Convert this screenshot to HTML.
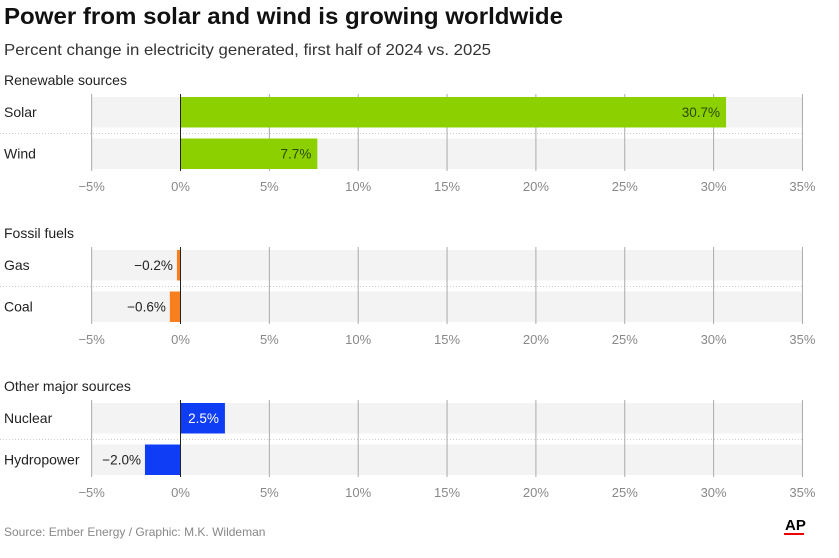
<!DOCTYPE html>
<html><head><meta charset="utf-8"><style>
body{margin:0;background:#fff;width:839px;height:553px;overflow:hidden;font-family:"Liberation Sans",sans-serif}
</style></head><body>
<svg id="c" width="839" height="553" xmlns="http://www.w3.org/2000/svg" font-family="Liberation Sans, sans-serif">
<text x="4" y="24" font-size="23.5" font-weight="bold" fill="#111" textLength="559" lengthAdjust="spacingAndGlyphs">Power from solar and wind is growing worldwide</text>
<text x="4" y="55" font-size="16" fill="#333" textLength="487" lengthAdjust="spacingAndGlyphs">Percent change in electricity generated, first half of 2024 vs. 2025</text>
<g id="panels"></g>
<text x="4" y="536" font-size="12" fill="#888">Source: Ember Energy / Graphic: M.K. Wildeman</text>
<text x="785" y="530" font-size="15" font-weight="bold" fill="#000">AP</text>
<rect x="784" y="533" width="20" height="2" fill="#e00"/>
</svg>
<script>
const groups = ["Renewable sources","Fossil fuels","Other major sources"];
const categories = [["Solar","Wind"],["Gas","Coal"],["Nuclear","Hydropower"]];
const values = [[30.7,7.7],[-0.2,-0.6],[2.5,-2.0]];
const colors = ["#8cd000","#f77f1e","#0f3cf5"];
const ticks = [-5,0,5,10,15,20,25,30,35];
const NS="http://www.w3.org/2000/svg";
const x = v => 180.5 + (v)*17.77;
const g = document.getElementById('panels');
function mk(t,a,txt){const e=document.createElementNS(NS,t);for(const k in a)e.setAttribute(k,a[k]);if(txt!=null)e.textContent=txt;g.appendChild(e);return e;}
groups.forEach((gn,gi)=>{
  const oy = gi*153;
  const t=mk('text',{x:4,y:85+oy,'font-size':14,fill:'#222'},gn);
  
  
  categories[gi].forEach((c,ri)=>{
    const top=97+oy+ri*41.5;
    const bg=mk('rect',{x:x(-5),y:top,width:x(35)-x(-5),height:30.5,fill:'#f3f3f3'});
    
    
  });
  const sep=mk('line',{x1:0,x2:802,y1:133.5+oy,y2:133.5+oy,stroke:'#ccc','stroke-dasharray':'1,2'});
  
  
  ticks.forEach(tv=>{
    const l=mk('line',{x1:x(tv),x2:x(tv),y1:94+oy,y2:171+oy,stroke:tv===0?'#222':'#aaa','stroke-width':1});
    
    
    const lb=mk('text',{x:x(tv),y:191+oy,'font-size':13,fill:'#888','text-anchor':'middle'},(tv<0?'\u2212'+Math.abs(tv):tv)+'%');
    
    
  });
  categories[gi].forEach((c,ri)=>{
    const top=97+oy+ri*41.5, v=values[gi][ri];
    const lab=mk('text',{x:4,y:top+20,'font-size':14,fill:'#222'},c);
    
    
    const x0=Math.min(x(0),x(v)), w=Math.abs(x(v)-x(0));
    const b=mk('rect',{x:x0,y:top,width:w,height:30.5,fill:colors[gi]});
    
    
    const txt=(v<0?'\u2212'+Math.abs(v).toFixed(1):v.toFixed(1))+'%';
    let vx,anchor,fill;
    if(v>=0){vx=x(v)-6;anchor='end';fill=gi===2?'#fff':'#2a4a00';}
    else{vx=x(v)-4;anchor='end';fill='#222';}
    const vl=mk('text',{x:vx,y:top+20,'font-size':13.5,fill:fill,'text-anchor':anchor},txt);
    
    
  });
  const z=mk('line',{x1:x(0),x2:x(0),y1:94+oy,y2:171+oy,stroke:'#222'});
  
  
});
</script>
</body></html>
